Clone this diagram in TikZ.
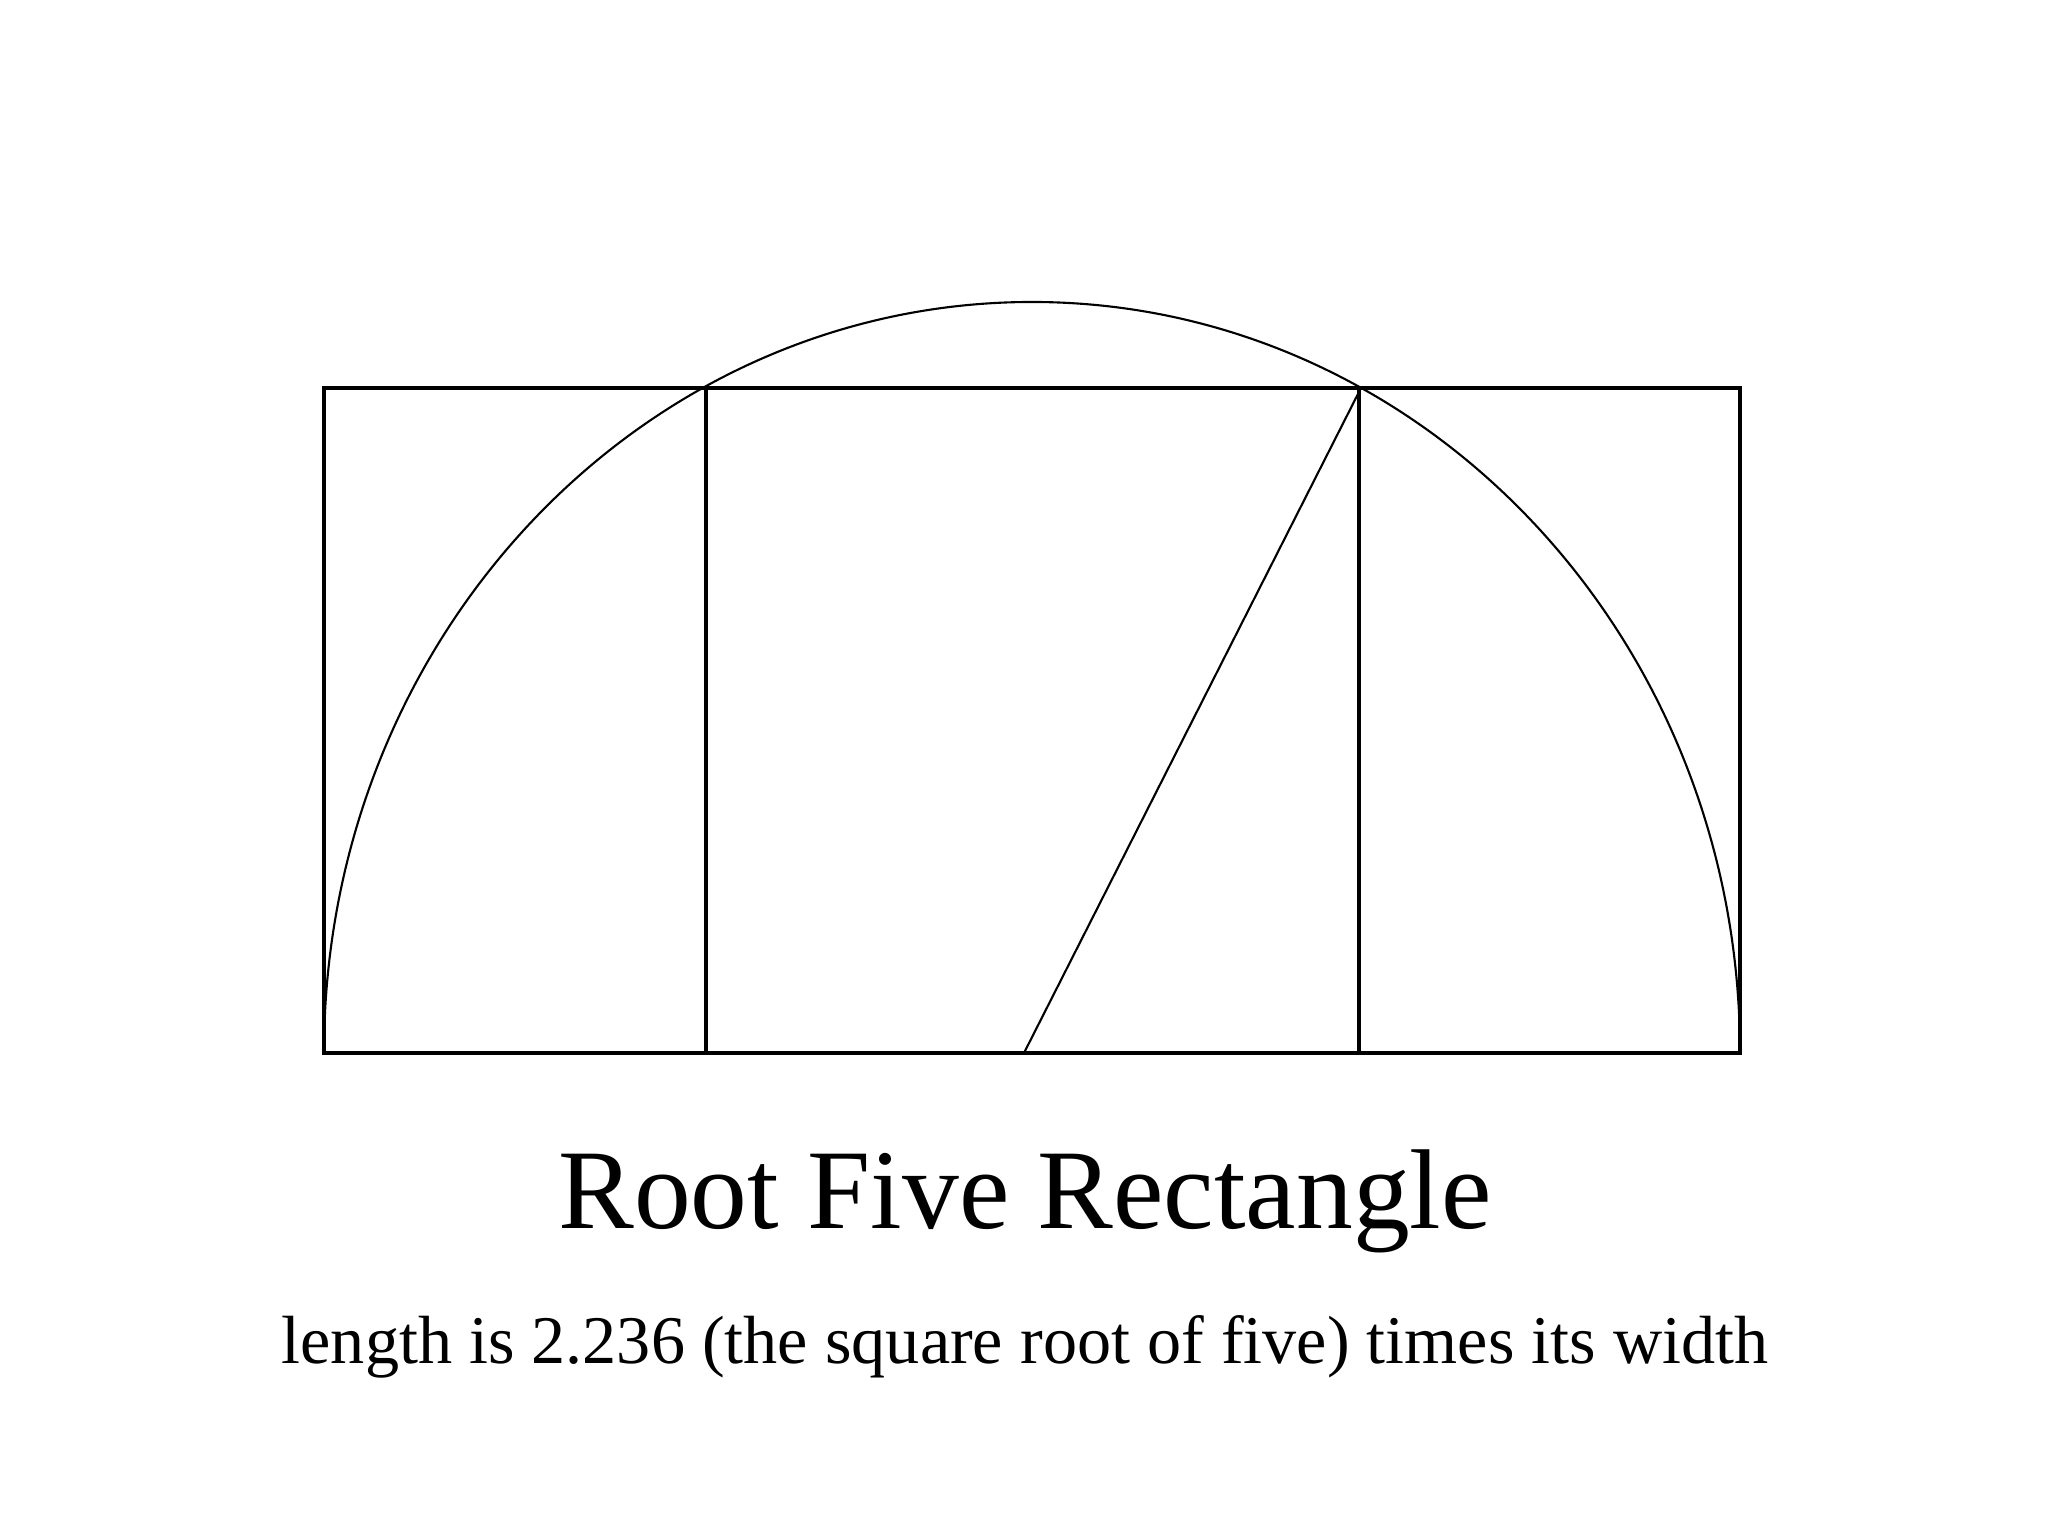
\documentclass[tikz,border=0pt]{standalone}
\usepackage{fontspec}
\setmainfont{Liberation Serif}
\usepackage{tikz}

\begin{document}
\begin{tikzpicture}
\useasboundingbox (0,0) rectangle (20.48,15.36);
%corners of the rectangle
\coordinate (A) at (3.24,4.83);
\coordinate (B) at (7.06,4.83);
\coordinate (C) at (13.59,4.83);
\coordinate (D) at (17.40,4.83);
\coordinate (E) at (3.24,11.48);
\coordinate (F) at (7.06,11.48);
\coordinate (G) at (13.59,11.48);
\coordinate (H) at (17.40,11.48);
\coordinate (M) at (10.24,4.83);
\coordinate (P) at (13.61,11.48);

\begin{scope}[line width=1pt]
    \draw (A) rectangle (H);
    \path [-] (B) edge (F);
    \path [-] (C) edge (G);
\end{scope}

\begin{scope}[line width=0.6pt]
    \draw (A) arc[start angle=180, end angle=0, x radius=7.08, y radius=7.51];
    \path [-] (M) edge (P);
\end{scope}

\node (title) [anchor=base] at (10.25,3.07) {\fontsize{32.3}{38}\selectfont Root Five Rectangle};
\node (sub) [anchor=base] at (10.25,1.72) {\fontsize{19.4}{24}\selectfont length is 2.236 (the square root of five) times its width};
\end{tikzpicture}
\end{document}
